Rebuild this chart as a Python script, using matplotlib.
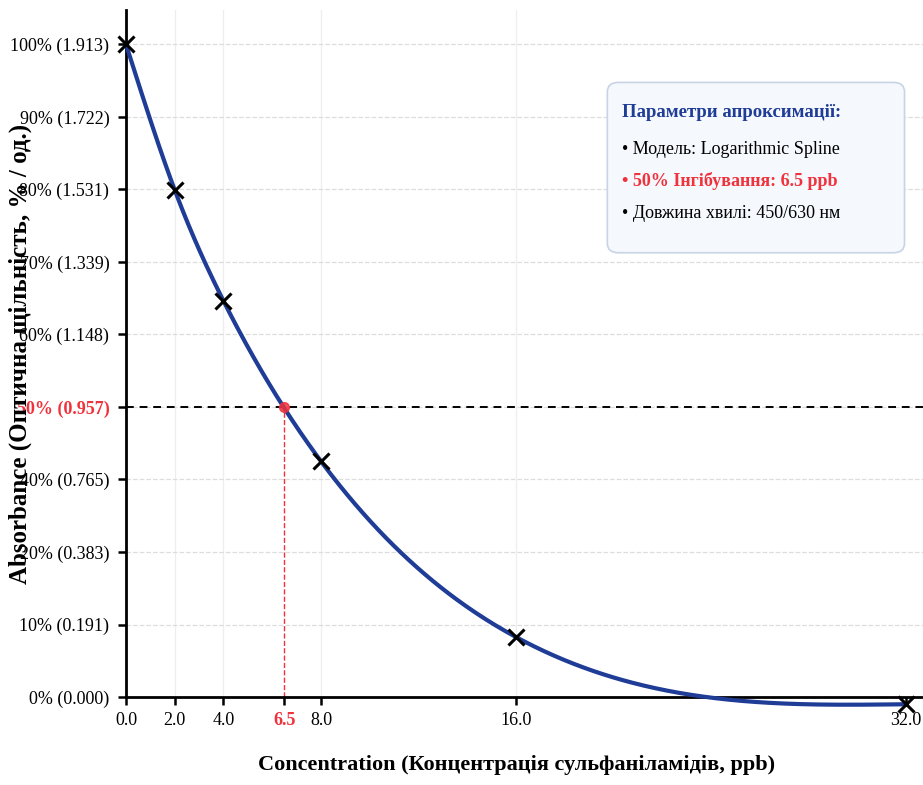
import matplotlib
matplotlib.use("Agg")
import matplotlib.pyplot as plt
from matplotlib.patches import FancyBboxPatch
import numpy as np

plt.rcParams['font.family'] = ['Liberation Serif', 'DejaVu Serif']

# calibration data
conc = [0.0, 2.0, 4.0, 8.0, 16.0, 32.0]
absorb = [1.913, 1.486, 1.161, 0.691, 0.176, -0.021]

ic50 = 6.5
half_level = 0.850

xticks = [0.0, 2.0, 4.0, 6.5, 8.0, 16.0, 32.0]
ytick_labels = ["0% (0.000)", "10% (0.191)", "20% (0.383)", "40% (0.765)",
                "50% (0.957)", "60% (1.148)", "70% (1.339)", "80% (1.531)",
                "90% (1.722)", "100% (1.913)"]

navy = "#1f3c96"
red = "#f0323c"


def natural_spline(x, y, xs):
	x = np.asarray(x, float); y = np.asarray(y, float)
	n = len(x)
	h = np.diff(x)
	A = np.zeros((n, n)); b = np.zeros(n)
	A[0, 0] = 1; A[-1, -1] = 1
	for i in range(1, n - 1):
		A[i, i-1] = h[i-1]
		A[i, i] = 2 * (h[i-1] + h[i])
		A[i, i+1] = h[i]
		b[i] = 6 * ((y[i+1] - y[i]) / h[i] - (y[i] - y[i-1]) / h[i-1])
	M = np.linalg.solve(A, b)
	out = np.zeros_like(xs)
	for k, t in enumerate(xs):
		i = max(min(np.searchsorted(x, t) - 1, n - 2), 0)
		a = x[i+1] - t; c = t - x[i]
		out[k] = (M[i] * a**3 + M[i+1] * c**3) / (6 * h[i]) \
			+ (y[i] / h[i] - M[i] * h[i] / 6) * a \
			+ (y[i+1] / h[i] - M[i+1] * h[i] / 6) * c
	return out


fig = plt.figure(figsize=(9.23, 7.85), dpi=100)
ax = fig.add_axes([0.1365, 0.112, 0.8635, 0.875])

xs = np.linspace(conc[0], conc[-1], 400)
ys = natural_spline(conc, absorb, xs)

ax.plot(xs, ys, color=navy, lw=3, zorder=3, clip_on=False)
ax.plot(conc, absorb, 'x', color='black', ms=12, mew=2.2, zorder=4, clip_on=False)

ax.axhline(half_level, color='black', ls='--', lw=1.4, dashes=(4, 3), zorder=2)
ax.plot([ic50, ic50], [0, half_level], color=red, ls='--', lw=1, zorder=2)
ax.plot([ic50], [half_level], 'o', color=red, ms=7, alpha=0.85, zorder=3)

yt = np.linspace(0, 1.913, 10)
ax.set_yticks(yt)
ax.set_yticklabels(ytick_labels, fontsize=13)
ax.set_xticks(xticks)
ax.set_xticklabels(["%.1f" % v for v in xticks], fontsize=13)
ax.get_xticklabels()[3].set_color(red)
ax.get_xticklabels()[3].set_fontweight('bold')
ax.get_yticklabels()[4].set_color(red)
ax.get_yticklabels()[4].set_fontweight('bold')

ax.set_xlim(0, 32.7)
ax.set_ylim(0, 1.913 * 9.47 / 9)

ax.grid(axis='y', color='#dddddd', ls='--', lw=0.9)
for v in [2.0, 4.0, 8.0, 16.0]:
	ax.axvline(v, color='#eeeeee', lw=0.9, zorder=0)

for s in ['top', 'right']:
	ax.spines[s].set_visible(False)
ax.spines['left'].set_linewidth(2)
ax.spines['bottom'].set_linewidth(2)
ax.tick_params(width=1.8, length=6)
ax.tick_params(axis='y', pad=6)
ax.tick_params(axis='x', pad=5)

ax.set_xlabel("Concentration (Концентрація сульфаніламідів, ppb)", fontsize=16,
	fontweight='bold')
ax.xaxis.set_label_coords(0.49, -0.085)
ax.set_ylabel("Absorbance (Оптична щільність, % / од.)", fontsize=18,
	fontweight='bold')
ax.yaxis.set_label_coords(-0.118, 0.5)

# info box
box = FancyBboxPatch((0.658, 0.678), 0.322, 0.217, boxstyle="round,pad=0.0,rounding_size=0.012",
	transform=fig.transFigure, facecolor='#f5f8fc', edgecolor='#c8d4e6', lw=1.2, zorder=1)
fig.patches.append(box)
fig.text(0.674, 0.857, "Параметри апроксимації:", fontsize=13.5, fontweight='bold',
	color=navy, va='center', zorder=6)
fig.text(0.674, 0.810, "• Модель: Logarithmic Spline", fontsize=13, color='black',
	va='center', zorder=6)
fig.text(0.674, 0.769, "• 50% Інгібування: 6.5 ppb", fontsize=13, fontweight='bold',
	color=red, va='center', zorder=6)
fig.text(0.674, 0.728, "• Довжина хвилі: 450/630 нм", fontsize=13, color='black',
	va='center', zorder=6)

fig.savefig("out.png", dpi=100)
